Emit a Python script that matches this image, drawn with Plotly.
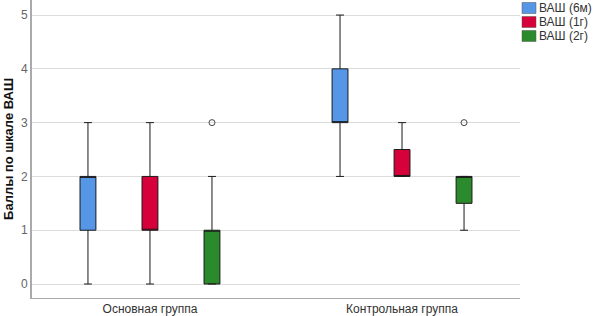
import plotly.graph_objects as go

groups = ["Основная группа", "Контрольная группа"]
series = ["ВАШ (6м)", "ВАШ (1г)", "ВАШ (2г)"]
colors = ["#5597E6", "#D6003A", "#2B8A2B"]

q1 = [[1, 3], [1, 2], [0, 1.5]]
median = [[2, 3], [1, 2], [1, 2]]
q3 = [[2, 4], [2, 2.5], [1, 2]]
lower = [[0, 2], [0, 2], [0, 1]]
upper = [[3, 5], [3, 3], [2, 2]]
outliers = [[None, None], [None, None], [3, 3]]

offsets = [-0.246, 0.0, 0.246]
box_w = 0.063

W, H = 593, 316
ML, MR, MT, MB = 32, 73, 0, 18
PW, PH = W - ML - MR, H - MT - MB

fig = go.Figure()
for s in range(len(series)):
    xs = [g + offsets[s] for g in range(len(groups))]
    fig.add_trace(go.Box(
        x=xs, q1=q1[s], median=median[s], q3=q3[s],
        lowerfence=lower[s], upperfence=upper[s],
        name=series[s], fillcolor=colors[s],
        line=dict(color="#1a1a1a", width=1),
        width=box_w, whiskerwidth=0.5, boxpoints=False,
        hoverinfo="skip", showlegend=False,
    ))
    ox = [x for x, o in zip(xs, outliers[s]) if o is not None]
    oy = [o for o in outliers[s] if o is not None]
    if oy:
        fig.add_trace(go.Scatter(
            x=ox, y=oy, mode="markers", showlegend=False,
            marker=dict(symbol="circle-open", size=6, color="#444", line=dict(width=1)),
            hoverinfo="skip",
        ))

# manual legend (outside plot area, right)
def px_x(p):
    return (p - ML) / PW

def px_y(p):
    return (H - MB - p) / PH

row_y = [8, 22, 36]
for s in range(len(series)):
    cy = row_y[s]
    fig.add_shape(type="rect", xref="paper", yref="paper",
                  x0=px_x(522), x1=px_x(536), y0=px_y(cy + 5.5), y1=px_y(cy - 5.5),
                  fillcolor=colors[s], line=dict(color="#555", width=0.5))
    fig.add_annotation(xref="paper", yref="paper", x=px_x(537), y=px_y(cy),
                       xanchor="left", yanchor="middle", text=series[s], showarrow=False,
                       font=dict(size=12, color="#333"))

fig.update_layout(
    width=W, height=H,
    margin=dict(l=ML, r=MR, t=MT, b=MB),
    paper_bgcolor="white", plot_bgcolor="white",
    font=dict(family="Liberation Sans, Arial, sans-serif", size=12, color="#333"),
    showlegend=False,
)
fig.update_xaxes(
    range=[-0.468, 1.468], tickvals=[0, 1], ticktext=groups, automargin=False,
    showgrid=False, zeroline=False, showline=True, linecolor="#aaaaaa", linewidth=1,
    ticks="", tickfont=dict(size=12, color="#333"),
)
fig.update_yaxes(
    range=[-0.26, 5.28], tickvals=[0, 1, 2, 3, 4, 5], showgrid=True, automargin=False,
    gridcolor="#dcdcdc", gridwidth=1, zeroline=False, showline=True,
    linecolor="#aaaaaa", linewidth=2, ticks="", ticklen=0,
    tickfont=dict(size=12, color="#666"),
    title=dict(text="<b>Баллы по шкале ВАШ</b>", font=dict(size=13, color="#111"), standoff=4),
)

fig.write_html("out.html", config={"displayModeBar": False, "staticPlot": True},
               post_script="document.body.style.margin='0';document.body.style.overflow='hidden';")
